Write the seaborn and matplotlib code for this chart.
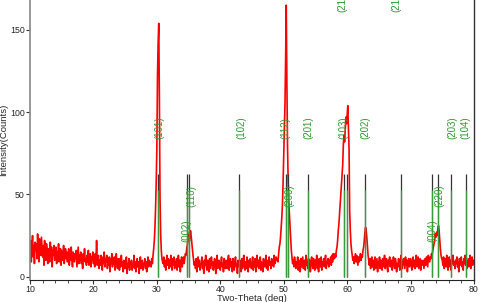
import numpy as np
import pandas as pd
import matplotlib
matplotlib.use("Agg")
import matplotlib.pyplot as plt
from matplotlib.ticker import MultipleLocator
import seaborn as sns

# ---- data (0.1 deg steps from 10.0 to 80.0) ----
two_theta_start = 10.0
two_theta_step = 0.1
counts_rows = [
    [14, 22, 9, 18, 25, 12, 19, 8, 21, 16],      # 10
    [20, 11, 26, 15, 9, 23, 17, 13, 24, 18],     # 11
    [12, 19, 7, 22, 14, 10, 20, 16, 8, 17],      # 12
    [15, 9, 21, 12, 18, 6, 16, 13, 19, 10],      # 13
    [13, 18, 8, 15, 11, 20, 9, 14, 17, 7],       # 14
    [16, 10, 14, 19, 8, 13, 17, 11, 15, 9],      # 15
    [12, 17, 7, 14, 10, 18, 11, 6, 15, 13],      # 16
    [9, 14, 11, 16, 6, 12, 18, 8, 13, 10],       # 17
    [15, 8, 12, 5, 14, 10, 17, 9, 11, 7],        # 18
    [13, 9, 16, 7, 11, 14, 6, 12, 10, 15],       # 19
    [8, 12, 6, 14, 9, 22, 7, 11, 13, 5],         # 20
    [10, 7, 13, 9, 4, 12, 8, 15, 6, 11],         # 21
    [9, 13, 5, 10, 7, 12, 3, 11, 8, 14],         # 22
    [6, 10, 8, 12, 4, 9, 14, 7, 5, 11],          # 23
    [8, 4, 11, 6, 13, 7, 9, 3, 10, 6],           # 24
    [5, 9, 12, 2, 8, 6, 11, 4, 9, 7],            # 25
    [10, 4, 8, 6, 13, 5, 9, 3, 7, 11],           # 26
    [6, 9, 2, 8, 12, 5, 7, 10, 4, 8],            # 27
    [7, 11, 5, 9, 3, 8, 12, 6, 10, 7],           # 28
    [9, 6, 11, 8, 13, 17, 22, 30, 42, 58],       # 29
    [78, 122, 142, 154, 108, 48, 26, 16, 11, 9], # 30
    [8, 12, 6, 10, 4, 9, 13, 7, 11, 5],          # 31
    [10, 6, 13, 8, 4, 11, 7, 12, 5, 9],          # 32
    [7, 11, 4, 9, 13, 6, 10, 3, 8, 12],          # 33
    [6, 9, 12, 8, 11, 14, 13, 17, 19, 22],       # 34
    [24, 26, 23, 28, 25, 21, 17, 13, 10, 7],     # 35
    [9, 5, 11, 3, 8, 12, 6, 10, 4, 7],           # 36
    [8, 12, 5, 9, 2, 10, 7, 13, 6, 4],           # 37
    [10, 6, 3, 11, 8, 5, 12, 7, 9, 4],           # 38
    [7, 11, 6, 2, 9, 13, 5, 8, 10, 6],           # 39
    [4, 9, 12, 6, 8, 3, 11, 7, 5, 10],           # 40
    [8, 5, 10, 13, 4, 7, 11, 6, 9, 3],           # 41
    [11, 7, 4, 9, 12, 6, 8, 2, 10, 7],           # 42
    [6, 10, 8, 3, 11, 5, 9, 13, 7, 4],           # 43
    [9, 5, 12, 7, 3, 10, 6, 11, 8, 5],           # 44
    [7, 12, 4, 9, 6, 11, 3, 8, 13, 6],           # 45
    [10, 5, 8, 12, 4, 9, 7, 3, 11, 8],           # 46
    [6, 9, 13, 5, 10, 4, 8, 12, 7, 9],           # 47
    [5, 11, 7, 10, 6, 13, 8, 9, 12, 10],         # 48
    [11, 9, 14, 18, 20, 24, 30, 36, 44, 57],     # 49
    [75, 90, 105, 132, 165, 118, 80, 58, 45, 38],# 50
    [30, 24, 16, 12, 8, 10, 6, 12, 9, 5],        # 51
    [9, 7, 12, 4, 10, 8, 3, 11, 6, 9],           # 52
    [12, 5, 8, 10, 4, 13, 7, 9, 5, 11],          # 53
    [6, 10, 3, 9, 12, 7, 5, 11, 8, 4],           # 54
    [10, 7, 13, 5, 9, 3, 11, 8, 6, 12],          # 55
    [4, 9, 7, 11, 6, 10, 13, 5, 8, 9],           # 56
    [11, 6, 10, 8, 12, 7, 13, 9, 14, 11],        # 57
    [11, 14, 12, 16, 18, 22, 28, 32, 38, 45],    # 58
    [51, 57, 63, 68, 80, 86, 82, 90, 97, 93],    # 59
    [98, 104, 90, 78, 40, 28, 20, 16, 13, 10],   # 60
    [12, 8, 11, 14, 9, 13, 10, 7, 12, 9],        # 61
    [11, 14, 10, 13, 12, 16, 18, 22, 27, 30],    # 62
    [28, 24, 18, 13, 10, 7, 11, 5, 9, 12],       # 63
    [6, 10, 4, 9, 12, 5, 8, 11, 3, 9],           # 64
    [7, 12, 5, 10, 8, 4, 11, 6, 9, 13],          # 65
    [5, 9, 11, 6, 3, 10, 8, 12, 6, 9],           # 66
    [10, 4, 8, 12, 7, 5, 11, 9, 3, 8],           # 67
    [6, 11, 9, 4, 10, 13, 7, 5, 9, 11],          # 68
    [8, 5, 12, 7, 10, 3, 9, 11, 6, 8],           # 69
    [11, 7, 4, 9, 12, 6, 10, 5, 8, 13],          # 70
    [6, 9, 12, 5, 8, 11, 4, 10, 7, 9],           # 71
    [10, 5, 8, 11, 7, 12, 9, 6, 13, 10],         # 72
    [9, 12, 11, 14, 13, 16, 18, 20, 22, 26],     # 73
    [24, 27, 25, 29, 31, 28, 22, 17, 13, 11],    # 74
    [10, 7, 12, 5, 9, 11, 6, 13, 8, 4],          # 75
    [9, 12, 6, 10, 4, 11, 8, 13, 7, 9],          # 76
    [5, 10, 8, 12, 6, 9, 3, 11, 7, 10],          # 77
    [12, 6, 9, 4, 11, 8, 13, 7, 10, 5],          # 78
    [8, 11, 6, 10, 13, 5, 9, 12, 7, 10],         # 79
    [9],                                         # 80
]

# reference pattern stick positions (deg)
ref_positions = [30.15, 34.75, 35.1, 43.0, 50.3, 50.6, 53.8, 59.5, 59.95,
                 62.8, 68.5, 73.3, 74.3, 76.4, 78.7]
ref_black_height = 62.5
ref_green_height = 52.5

# hkl labels: text, x position (deg), bottom of label (counts)
hkl_labels = ["(101)", "(102)", "(112)", "(201)", "(103)", "(202)", "(203)", "(104)",
              "(002)", "(110)", "(200)", "(004)", "(220)", "(211)", "(212)"]
hkl_x = [30.35, 43.27, 50.31, 53.88, 59.45, 62.94, 76.6, 78.7,
         34.64, 35.4, 50.86, 73.4, 74.6, 59.3, 67.7]
hkl_y = [84, 84, 84, 84, 84, 84, 84, 84,
         21, 42.4, 42.4, 21, 42.4, 161, 161]

x_ticks = [10, 20, 30, 40, 50, 60, 70, 80]
y_ticks = [0, 50, 100, 150]

# ---- build table ----
counts = [v for row in counts_rows for v in row]
two_theta = two_theta_start + two_theta_step * np.arange(len(counts))
df = pd.DataFrame({"Two-Theta (deg)": two_theta, "Intensity(Counts)": counts})

sns.set_style("ticks")
plt.rcParams["font.family"] = ["Liberation Sans", "DejaVu Sans"]

fig = plt.figure(figsize=(4.8, 3.02), dpi=100)
ax = fig.add_axes([30 / 480, 22 / 302, 444 / 480, 280 / 302])

sns.lineplot(data=df, x="Two-Theta (deg)", y="Intensity(Counts)", ax=ax,
             color="#ff0000", linewidth=1.2, estimator=None, sort=False)

ax.vlines(ref_positions, 0, ref_black_height, colors="#333333", linewidth=0.9, zorder=3)
ax.vlines(ref_positions, 0, ref_green_height, colors="#3a9a3a", linewidth=0.9, zorder=4)

for t, xx, yy in zip(hkl_labels, hkl_x, hkl_y):
    ax.text(xx, yy, t, rotation=90, ha="center", va="bottom", fontsize=7,
            color="#2f9a2f", zorder=5, clip_on=False)

ax.set_xlim(10, 80)
ax.set_ylim(-2, 168.2)
ax.set_xticks(x_ticks)
ax.set_yticks(y_ticks)
ax.xaxis.set_minor_locator(MultipleLocator(2))
ax.tick_params(axis="both", which="major", labelsize=6.3, length=3, width=0.8,
               color="#333333", pad=0.8)
ax.tick_params(axis="x", which="minor", length=2, width=0.6, color="#333333")

ax.set_xlabel("Two-Theta (deg)", fontsize=6.8, labelpad=0)
ax.set_ylabel("Intensity(Counts)", fontsize=6.8, labelpad=1)

ax.spines["top"].set_visible(False)
ax.spines["left"].set_color("#888888")
ax.spines["left"].set_linewidth(1.2)
ax.spines["right"].set_color("#333333")
ax.spines["right"].set_linewidth(1.0)
ax.spines["bottom"].set_color("#222222")
ax.spines["bottom"].set_linewidth(0.8)

fig.savefig("out.png", dpi=100)
